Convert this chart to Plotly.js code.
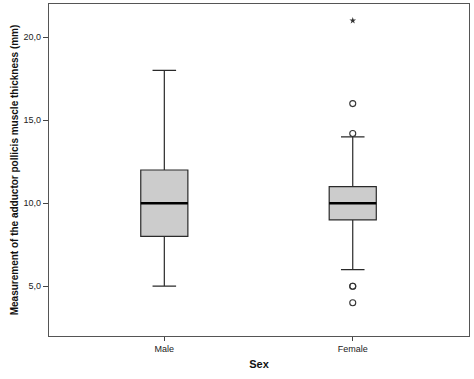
<!DOCTYPE html>
<html><head><meta charset="utf-8">
<script src="https://cdn.plot.ly/plotly-3.0.1.min.js"></script>
<style>html,body{margin:0;padding:0;background:#fff}#chart{width:474px;height:379px}</style>
</head><body><div id="chart"></div>
<script>
var categories = ['Male', 'Female'];
var q1 = [8, 9];
var median = [10, 10];
var q3 = [12, 11];
var lowerWhisker = [5, 6];
var upperWhisker = [18, 14];
var outlierCategory = ['Female', 'Female', 'Female', 'Female', 'Female'];
var outlierValues = [16, 14.2, 5, 5, 4];
var extremeCategory = ['Female'];
var extremeValues = [21];
var yTicks = [5, 10, 15, 20];

var pos = categories.map(function (c, i) { return i; });
var idx = function (c) { return categories.indexOf(c); };
var boxWidth = 0.25;

var font = {family: 'Liberation Sans, Arial, sans-serif', color: '#222'};

var traces = [
  {
    type: 'box', x: pos, q1: q1, median: median, q3: q3,
    lowerfence: lowerWhisker, upperfence: upperWhisker,
    width: boxWidth, whiskerwidth: 0.5,
    fillcolor: 'rgb(204,204,204)',
    line: {color: '#2a2a2a', width: 1.2},
    boxpoints: false, hoverinfo: 'skip', showlegend: false
  }
];
// thick median lines
pos.forEach(function (p, i) {
  traces.push({
    type: 'scatter', mode: 'lines',
    x: [p - boxWidth / 2, p + boxWidth / 2], y: [median[i], median[i]],
    line: {color: '#000', width: 2.5}, showlegend: false, hoverinfo: 'skip'
  });
});
traces.push({
  type: 'scatter', mode: 'markers',
  x: outlierCategory.map(idx), y: outlierValues,
  marker: {symbol: 'circle-open', size: 6, color: '#333', line: {width: 1.1, color: '#333'}},
  showlegend: false, hoverinfo: 'skip'
});
traces.push({
  type: 'scatter', mode: 'markers',
  x: extremeCategory.map(idx), y: extremeValues,
  marker: {symbol: 'star', size: 5, color: '#333', line: {width: 0}},
  showlegend: false, hoverinfo: 'skip'
});

var layout = {
  width: 474, height: 379,
  margin: {l: 49, r: 5, t: 4, b: 43},
  paper_bgcolor: '#fff', plot_bgcolor: '#fff',
  separators: ',.',
  font: font,
  showlegend: false,
  xaxis: {
    range: [-0.612, 1.617], tickvals: pos, ticktext: categories,
    showgrid: false, zeroline: false,
    showline: true, mirror: true, linecolor: '#555', linewidth: 1.2,
    ticks: 'outside', ticklen: 4, tickcolor: '#444', tickwidth: 1,
    tickfont: {family: font.family, size: 9, color: '#222'},
    title: {text: 'Sex', font: {family: font.family, size: 11, weight: 'bold', color: '#111'}, standoff: 7}
  },
  yaxis: {
    range: [2, 22], tickvals: yTicks, tickformat: '.1f',
    showgrid: false, zeroline: false,
    showline: true, mirror: true, linecolor: '#555', linewidth: 1.2,
    ticks: 'outside', ticklen: 5, tickcolor: '#444', tickwidth: 1,
    tickfont: {family: font.family, size: 9, color: '#222'},
    title: {text: 'Measurement of the adductor pollicis muscle thickness (mm)', font: {family: font.family, size: 10, weight: 'bold', color: '#111'}, standoff: 3}
  }
};

Plotly.newPlot('chart', traces, layout, {staticPlot: true, displayModeBar: false});
</script></body></html>
